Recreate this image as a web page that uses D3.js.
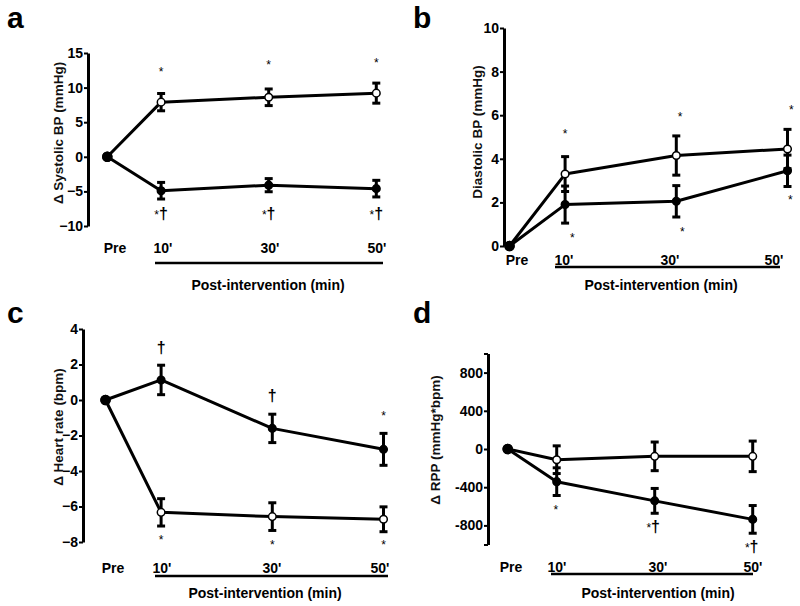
<!DOCTYPE html>
<html><head><meta charset="utf-8">
<script src="https://cdn.jsdelivr.net/npm/d3@7"></script>
<style>
body{margin:0;background:#fff}
svg{display:block}
text{font-family:"Liberation Sans",Arial,Helvetica,sans-serif}
</style>
</head><body>
<svg id="chart" width="800" height="606"></svg>
<script>
// ---------- data ----------
const times = [0, 10, 30, 50];
const xTickLabels = ["Pre", "10'", "30'", "50'"];

// a: systolic BP
const sbpOpen = [0, 7.9, 8.6, 9.2];
const sbpOpenErr = [0, 1.25, 1.2, 1.45];
const sbpFilled = [0, -4.9, -4.1, -4.6];
const sbpFilledErr = [0, 1.2, 0.95, 1.2];
const sbpTicks = [-10, -5, 0, 5, 10, 15];
const sbpNotes = [
  {t: 10, v: 11.7, star: "*", dagger: ""}, {t: 30, v: 12.7, star: "*", dagger: ""}, {t: 50, v: 13.0, star: "*", dagger: ""},
  {t: 10, v: -8.95, star: "*", dagger: "†"}, {t: 30, v: -8.95, star: "*", dagger: "†"}, {t: 50, v: -8.95, star: "*", dagger: "†"}
];

// b: diastolic BP
const dbpOpen = [0, 3.3, 4.15, 4.45];
const dbpOpenErr = [0, 0.8, 0.9, 0.9];
const dbpFilled = [0, 1.9, 2.05, 3.45];
const dbpFilledErr = [0, 0.85, 0.72, 0.72];
const dbpTicks = [0, 2, 4, 6, 8, 10];
const dbpNotes = [
  {t: 10, v: 4.95, star: "*", dagger: ""}, {t: 30.7, v: 5.73, star: "*", dagger: ""}, {t: 50.7, v: 6.06, star: "*", dagger: ""},
  {t: 11.3, v: 0.18, star: "*", dagger: ""}, {t: 31.1, v: 0.46, star: "*", dagger: ""}, {t: 50.5, v: 1.93, star: "*", dagger: ""}
];

// c: heart rate
const hrOpen = [0, -6.33, -6.57, -6.72];
const hrOpenErr = [0, 0.77, 0.78, 0.7];
const hrFilled = [0, 1.13, -1.6, -2.78];
const hrFilledErr = [0, 0.83, 0.8, 0.9];
const hrTicks = [-8, -6, -4, -2, 0, 2, 4];
const hrNotes = [
  {t: 10, v: 2.65, star: "", dagger: "†"}, {t: 30, v: -0.06, star: "", dagger: "†"}, {t: 50, v: -1.13, star: "*", dagger: ""},
  {t: 10, v: -8.1, star: "*", dagger: ""}, {t: 30, v: -8.4, star: "*", dagger: ""}, {t: 50, v: -8.4, star: "*", dagger: ""}
];

// d: rate pressure product
const rppOpen = [0, -112, -77, -77];
const rppOpenErr = [0, 145, 150, 160];
const rppFilled = [0, -342, -543, -737];
const rppFilledErr = [0, 145, 130, 145];
const rppTicks = [-1000, -800, -400, 0, 400, 800, 1000];
const rppTickLabels = ["", "-800", "-400", "0", "400", "800", ""];
const rppNotes = [
  {t: 9.8, v: -680, star: "*", dagger: ""}, {t: 29.7, v: -871, star: "*", dagger: "†"}, {t: 49.8, v: -1083, star: "*", dagger: "†"}
];

// ---------- layout ----------
const panels = [
  {letter: "a", lx: 7, ly: 28, title: "Δ Systolic BP (mmHg)", open: sbpOpen, openErr: sbpOpenErr, filled: sbpFilled, filledErr: sbpFilledErr,
   yDomain: [-10, 15], yRange: [226, 53], ticks: sbpTicks, tickLabels: null, axisX: 88, xRange: [107.3, 376.3],
   labelX: [115, 163, 270, 377], labelY: 253, underline: [155, 383, 263], titleX: 268, titleY: 290, yTitleX: 63, yTitleY: 133, notes: sbpNotes},
  {letter: "b", lx: 413, ly: 28, title: "Diastolic BP (mmHg)", open: dbpOpen, openErr: dbpOpenErr, filled: dbpFilled, filledErr: dbpFilledErr,
   yDomain: [0, 10], yRange: [246, 28], ticks: dbpTicks, tickLabels: null, axisX: 504, xRange: [509.5, 787.5],
   labelX: [517, 564, 670, 774], labelY: 265, underline: [555, 780, 267], titleX: 661, titleY: 290, yTitleX: 482, yTitleY: 132, notes: dbpNotes},
  {letter: "c", lx: 7, ly: 323, title: "Δ Heart rate (bpm)", open: hrOpen, openErr: hrOpenErr, filled: hrFilled, filledErr: hrFilledErr,
   yDomain: [-8, 4], yRange: [542, 329], ticks: hrTicks, tickLabels: null, axisX: 83, xRange: [105.5, 383.5],
   labelX: [113, 162, 272, 380], labelY: 573, underline: [155, 388, 576], titleX: 265, titleY: 598, yTitleX: 63, yTitleY: 427, notes: hrNotes},
  {letter: "d", lx: 413, ly: 323, title: "Δ RPP (mmHg*bpm)", open: rppOpen, openErr: rppOpenErr, filled: rppFilled, filledErr: rppFilledErr,
   yDomain: [-1000, 1000], yRange: [544.5, 353.5], ticks: rppTicks, tickLabels: rppTickLabels, axisX: 488, xRange: [507.7, 752.7],
   labelX: [511, 557, 658, 753], labelY: 572, underline: [551, 753, 574], titleX: 658, titleY: 598, yTitleX: 440, yTitleY: 440, notes: rppNotes}
];

const svg = d3.select("#chart");

panels.forEach(p => {
  const g = svg.append("g");
  const x = d3.scaleLinear().domain([0, 50]).range(p.xRange);
  const y = d3.scaleLinear().domain(p.yDomain).range(p.yRange);

  // panel letter
  g.append("text").attr("x", p.lx).attr("y", p.ly).text(p.letter)
    .attr("font-size", 30).attr("font-weight", "bold").attr("fill", "#000");

  // y axis
  const axis = d3.axisLeft(y).tickValues(p.ticks).tickSize(4).tickSizeOuter(0).tickPadding(1);
  if (p.tickLabels) axis.tickFormat((d, i) => p.tickLabels[i]);
  const ag = g.append("g").attr("transform", `translate(${p.axisX},0)`).call(axis);
  ag.select(".domain").attr("stroke", "#000").attr("stroke-width", 3);
  ag.selectAll(".tick line").attr("stroke", "#000").attr("stroke-width", 2);
  ag.selectAll(".tick text").attr("font-size", 14).attr("font-weight", "bold").attr("fill", "#000")
    .attr("font-family", "'Liberation Sans', Arial, sans-serif");

  // y title
  g.append("text").attr("transform", `translate(${p.yTitleX},${p.yTitleY}) rotate(-90)`)
    .attr("text-anchor", "middle").attr("font-size", 13.5).attr("font-weight", "bold").attr("fill", "#111")
    .text(p.title);

  // x labels
  g.selectAll("text.xl").data(xTickLabels).enter().append("text").attr("class", "xl")
    .attr("x", (d, i) => p.labelX[i]).attr("y", p.labelY).attr("text-anchor", "middle")
    .attr("font-size", 14).attr("font-weight", "bold").attr("fill", "#000").text(d => d);

  // underline and x title
  g.append("line").attr("x1", p.underline[0]).attr("x2", p.underline[1])
    .attr("y1", p.underline[2]).attr("y2", p.underline[2]).attr("stroke", "#000").attr("stroke-width", 2.5);
  g.append("text").attr("x", p.titleX).attr("y", p.titleY).attr("text-anchor", "middle")
    .attr("font-size", 14).attr("font-weight", "bold").attr("fill", "#000").text("Post-intervention (min)");

  const series = [
    {vals: p.open, errs: p.openErr, fill: "#fff"},
    {vals: p.filled, errs: p.filledErr, fill: "#000"}
  ];
  const line = d3.line().x((d, i) => x(times[i])).y(d => y(d));

  series.forEach(s => {
    g.append("path").datum(s.vals).attr("d", line).attr("fill", "none")
      .attr("stroke", "#000").attr("stroke-width", 3).attr("stroke-linejoin", "round");
  });

  series.forEach(s => {
    const eb = g.append("g");
    s.vals.forEach((v, i) => {
      const e = s.errs[i];
      if (!e) return;
      const cx = x(times[i]);
      eb.append("line").attr("x1", cx).attr("x2", cx).attr("y1", y(v - e)).attr("y2", y(v + e))
        .attr("stroke", "#000").attr("stroke-width", 3);
      [v - e, v + e].forEach(ev => {
        eb.append("line").attr("x1", cx - 4).attr("x2", cx + 4).attr("y1", y(ev)).attr("y2", y(ev))
          .attr("stroke", "#000").attr("stroke-width", 3);
      });
    });
  });

  series.forEach(s => {
    g.selectAll(null).data(s.vals).enter().append("circle")
      .attr("cx", (d, i) => x(times[i])).attr("cy", d => y(d))
      .attr("r", (d, i) => i === 0 ? 4.5 : 3.8)
      .attr("fill", s.fill).attr("stroke", "#000").attr("stroke-width", 1.5);
  });

  // significance annotations
  p.notes.forEach(n => {
    const t = g.append("text").attr("x", x(n.t)).attr("y", y(n.v)).attr("text-anchor", "middle").attr("fill", "#000");
    if (n.star) t.append("tspan").attr("font-size", 12).text(n.star);
    if (n.dagger) t.append("tspan").attr("font-size", 16).attr("font-weight", "bold").text(n.dagger);
  });
});
</script>
</body></html>
